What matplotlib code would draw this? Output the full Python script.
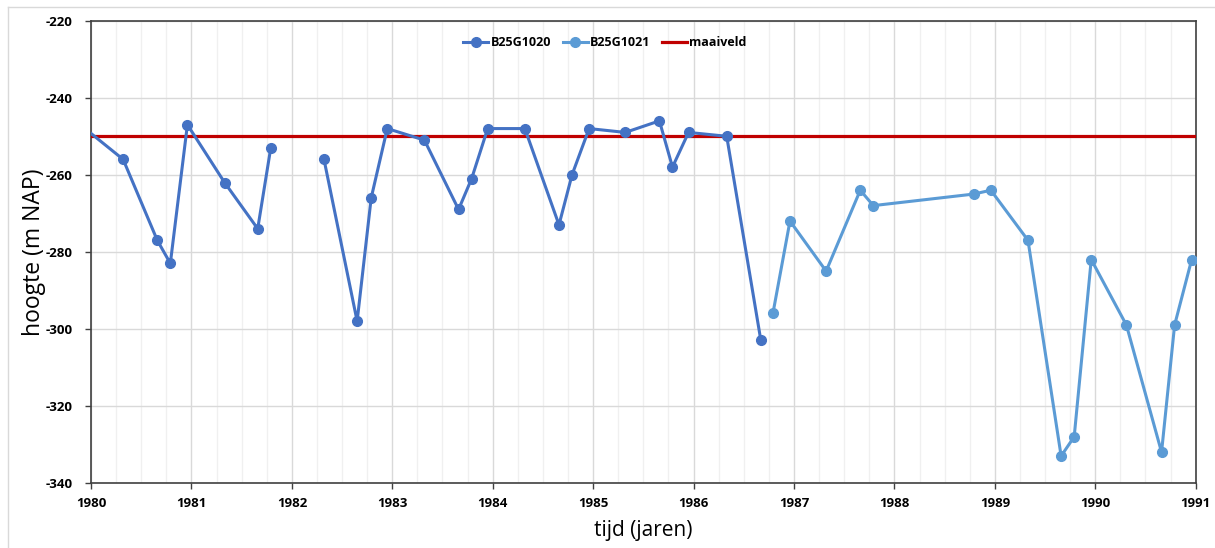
import matplotlib
matplotlib.use("Agg")
import matplotlib.pyplot as plt
from matplotlib.lines import Line2D
from matplotlib.ticker import MultipleLocator

plt.rcParams["axes.unicode_minus"] = False

# ---------- data ----------
years_1020 = [1979.75, 1980.32, 1980.66, 1980.79, 1980.96, 1981.33, 1981.66, 1981.79,
              None,
              1982.32, 1982.65, 1982.79, 1982.95, 1983.32, 1983.66, 1983.79, 1983.95,
              1984.32, 1984.66, 1984.79, 1984.96, 1985.32, 1985.66, 1985.79, 1985.95,
              1986.33, 1986.67]
level_1020 = [-244, -256, -277, -283, -247, -262, -274, -253,
              None,
              -256, -298, -266, -248, -251, -269, -261, -248,
              -248, -273, -260, -248, -249, -246, -258, -249,
              -250, -303]

years_1021 = [1986.79, 1986.96, 1987.32, 1987.66, 1987.79, 1988.79, 1988.96, 1989.33,
              1989.66, 1989.79, 1989.96, 1990.31, 1990.66, 1990.79, 1990.96, 1991.32]
level_1021 = [-296, -272, -285, -264, -268, -265, -264, -277,
              -333, -328, -282, -299, -332, -299, -282, -292]

maaiveld = -250

year_ticks = list(range(1980, 1992))
level_ticks = list(range(-340, -219, 20))

c_1020 = "#4472C4"
c_1021 = "#5B9BD5"
c_maaiveld = "#C00000"

tick_font = "Open Sans"
label_font = "Open Sans"

fig = plt.figure(figsize=(12.15, 5.48), dpi=100)
ax = fig.add_axes([91 / 1215, 1 - 483 / 548, (1195.7 - 91) / 1215, (483 - 20.7) / 548])

# nan for gap
def to_float(vals):
    return [float("nan") if v is None else v for v in vals]

ax.plot(to_float(years_1020), to_float(level_1020), color=c_1020, lw=2.2,
        marker="o", ms=7, label="B25G1020", zorder=4)
ax.plot(years_1021, level_1021, color=c_1021, lw=2.2,
        marker="o", ms=7, label="B25G1021", zorder=4)
ax.axhline(maaiveld, color=c_maaiveld, lw=2.3, zorder=3, label="maaiveld")

ax.set_xlim(1980, 1991)
ax.set_ylim(-340, -220)
ax.set_xticks(year_ticks)
ax.set_yticks(level_ticks)
ax.xaxis.set_minor_locator(MultipleLocator(0.25))

ax.grid(True, which="major", color="#D9D9D9", lw=1.0, zorder=0)
ax.grid(True, which="minor", axis="x", color="#F0F0F0", lw=1.0, zorder=0)
ax.set_axisbelow(True)

for s in ax.spines.values():
    s.set_color("#404040")
    s.set_linewidth(1.2)

ax.tick_params(axis="both", which="major", length=4, width=1, color="#404040",
               labelsize=9.5)
ax.tick_params(axis="x", which="major", pad=6)
ax.tick_params(axis="y", which="major", pad=9)
ax.tick_params(axis="both", which="minor", length=0)
for lab in ax.get_xticklabels() + ax.get_yticklabels():
    lab.set_fontweight("bold")
    lab.set_fontfamily(tick_font)

ax.set_xlabel("tijd (jaren)", fontsize=15, family=label_font, labelpad=7)
ax.set_ylabel("hoogte (m NAP)", fontsize=16.5, family=label_font, labelpad=0)

handles = [
    Line2D([], [], color=c_1020, lw=2.2, marker="o", ms=7),
    Line2D([], [], color=c_1021, lw=2.2, marker="o", ms=7),
    Line2D([], [], color=c_maaiveld, lw=2.3),
]
fig.legend(handles, ["B25G1020", "B25G1021", "maaiveld"], loc="center",
           bbox_to_anchor=(0.498, 1 - 43 / 548), ncol=3, frameon=False,
           handlelength=2.0, handletextpad=0.2, columnspacing=0.9,
           prop={"family": tick_font, "weight": "bold", "size": 9})

# outer chart border (top and left)
fig.add_artist(Line2D([8 / 1215, 1], [1 - 7 / 548, 1 - 7 / 548], color="#D9D9D9", lw=1,
                      transform=fig.transFigure))
fig.add_artist(Line2D([8 / 1215, 8 / 1215], [0, 1 - 7 / 548], color="#D9D9D9", lw=1,
                      transform=fig.transFigure))

fig.savefig("out.png", dpi=100)
